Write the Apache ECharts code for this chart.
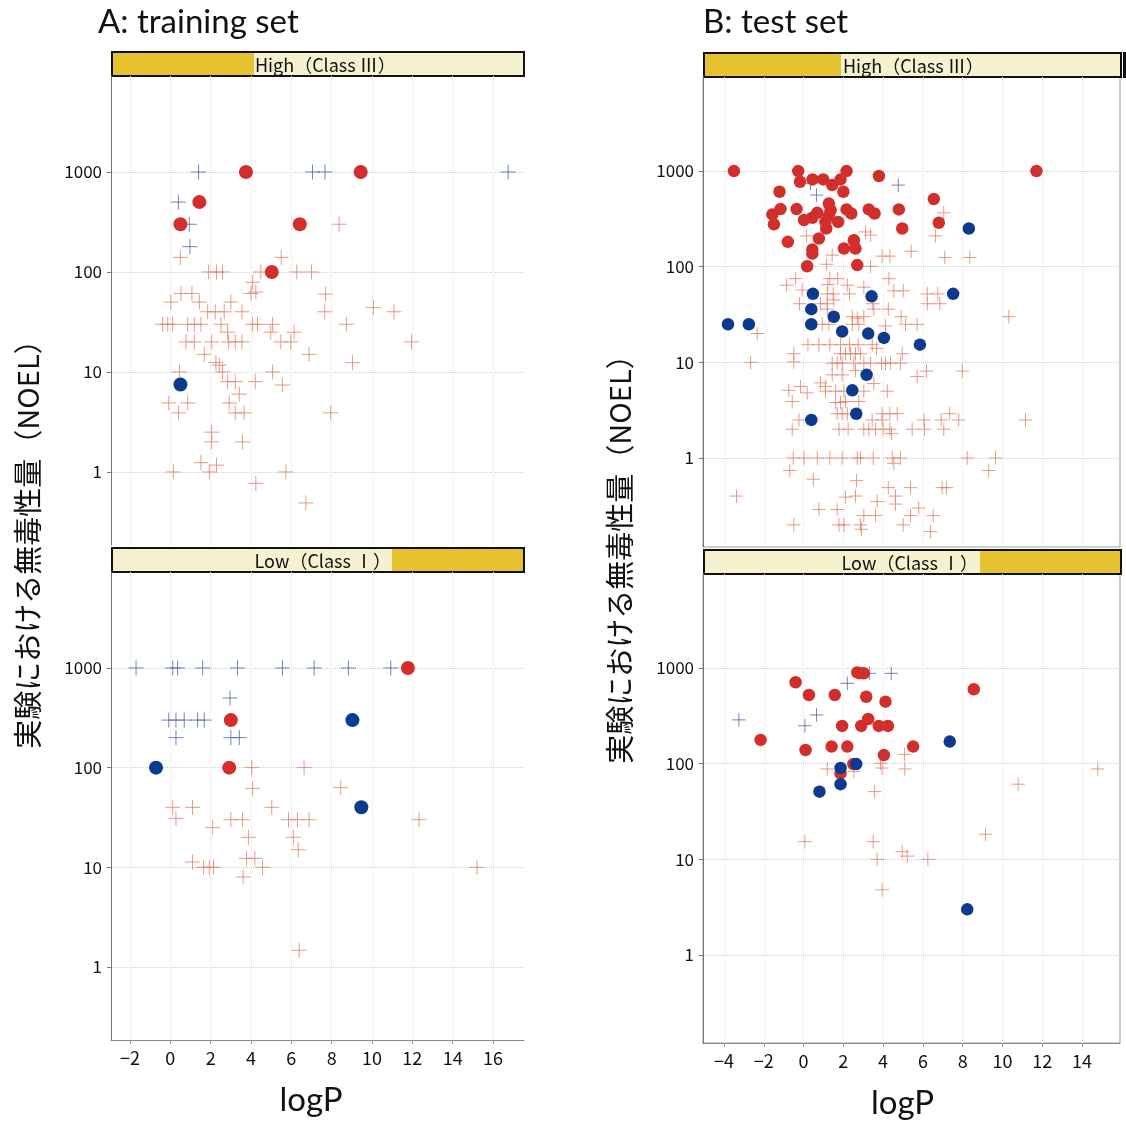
<!DOCTYPE html>
<html>
<head>
<meta charset="utf-8">
<script src="https://cdn.jsdelivr.net/npm/echarts@6/dist/echarts.min.js"></script>
<style>
html, body { margin: 0; padding: 0; background: #fff; }
#chart { width: 1126px; height: 1122px; }
</style>
</head>
<body>
<div id="chart"></div>
<script>
// logP on x, NOEL on y (log scale)
const yTicks = [1, 10, 100, 1000];
const xTicksA = [-2, 0, 2, 4, 6, 8, 10, 12, 14, 16];
const xTicksB = [-4, -2, 0, 2, 4, 6, 8, 10, 12, 14];

// A: training set, High (Class III)
const trainHighRedCircle = [[3.75, 1000], [9.44, 1000], [1.44, 500], [0.5, 300], [6.42, 300], [5.03, 100]];
const trainHighBlueCircle = [[0.5, 7.5]];
const trainHighBlueCross = [[1.4, 1000], [7.05, 1000], [7.67, 1000], [16.75, 1000], [0.4, 500], [0.94, 300], [0.97, 179]];
const trainHighRedCross = [
  [8.37, 300], [0.5, 140], [5.5, 140], [1.9, 100], [2.29, 100], [2.59, 100], [4.49, 100], [6.27, 100], [7.0, 100],
  [4.08, 79], [4.0, 61], [4.24, 63], [7.7, 60], [0.53, 61], [1.07, 61], [0.03, 50], [1.44, 50], [3.0, 50],
  [1.85, 40], [2.23, 40], [2.67, 40], [3.55, 40], [7.66, 40], [10.07, 44], [11.09, 40],
  [-0.38, 30], [-0.13, 30], [0.11, 30], [0.86, 30], [1.19, 30], [1.52, 30], [2.51, 30], [4.08, 30], [4.32, 30],
  [5.07, 30], [8.73, 30], [2.84, 25], [4.98, 25], [6.14, 25],
  [0.78, 20], [1.19, 20], [2.05, 20], [2.89, 20], [3.22, 20], [3.55, 20], [5.48, 20], [5.97, 20], [11.96, 20],
  [1.68, 15], [6.88, 15], [2.26, 12.4], [2.43, 11.7], [9.03, 12.4], [0.45, 10], [2.59, 10], [5.07, 10],
  [2.84, 8], [3.22, 8], [4.21, 8], [5.56, 7.4], [3.42, 6], [-0.08, 4.9], [0.86, 4.9], [2.92, 4.9],
  [0.41, 3.9], [3.22, 3.9], [3.66, 3.9], [7.95, 3.9], [2.05, 2.5], [2.05, 2.0], [3.58, 2.0],
  [1.52, 1.24], [1.93, 1.0], [2.29, 1.17], [0.15, 1.0], [5.73, 1.0], [4.24, 0.77], [6.72, 0.49]
];

// A: training set, Low (Class I)
const trainLowRedCircle = [[11.78, 1000], [3.0, 300], [2.92, 100]];
const trainLowBlueCircle = [[9.03, 300], [-0.71, 100], [9.47, 40]];
const trainLowBlueCross = [
  [-1.7, 1000], [0.12, 1000], [0.36, 1000], [1.6, 1000], [3.33, 1000], [5.56, 1000], [7.13, 1000], [8.83, 1000], [10.93, 1000],
  [2.96, 500], [-0.08, 300], [0.28, 300], [0.69, 300], [1.35, 300], [1.68, 300], [0.28, 200], [3.0, 200], [3.42, 200]
];
const trainLowRedCross = [
  [4.04, 100], [6.63, 100], [4.08, 62], [8.45, 63], [0.12, 40], [1.1, 40], [5.03, 40], [0.28, 31],
  [3.0, 30], [3.58, 30], [5.86, 30], [6.3, 30], [6.88, 30], [12.33, 30], [2.1, 25], [3.88, 20], [6.1, 20],
  [6.34, 15], [1.1, 11.3], [1.65, 10], [1.93, 10], [2.14, 10], [3.78, 12.3], [4.19, 12.3], [4.57, 10],
  [3.61, 8], [15.21, 10], [6.39, 1.47]
];

// B: test set, High (Class III)
const testHighRedCircle = [
  [-3.5, 1000], [-0.27, 1000], [2.16, 1000], [11.71, 1000], [-0.18, 773], [0.45, 818], [0.99, 818], [1.44, 713],
  [1.86, 818], [3.79, 887], [-1.21, 607], [2.0, 607], [6.55, 509], [-1.16, 400], [-1.57, 352], [-1.49, 277],
  [-0.35, 400], [0.02, 307], [0.44, 325], [0.69, 366], [1.27, 457], [1.36, 390], [1.27, 340], [1.1, 294],
  [1.14, 251], [1.74, 294], [2.16, 397], [2.4, 360], [3.28, 397], [3.57, 360], [4.79, 397], [4.96, 251],
  [6.8, 288], [-0.79, 182], [0.77, 197], [2.53, 189], [2.03, 155], [2.61, 155], [0.44, 151], [0.44, 137],
  [0.18, 101], [2.7, 104]
];
const testHighBlueCircle = [
  [8.31, 251], [0.47, 52], [3.42, 49], [7.52, 52], [0.39, 36], [-3.8, 25], [-2.75, 25], [0.39, 25], [1.52, 30],
  [1.94, 21], [3.25, 20], [4.04, 18], [5.85, 15.3], [3.17, 7.4], [2.45, 5.1], [2.65, 2.9], [0.39, 2.5]
];
const testHighBlueCross = [[0.35, 744], [0.65, 561], [4.76, 713]];
const testHighRedCross = [
  [7.05, 366], [6.63, 210], [0.15, 210], [3.12, 231], [3.37, 214],
  [1.44, 132], [3.95, 129], [4.34, 129], [5.41, 145], [7.1, 125], [8.36, 125], [1.16, 106], [3.37, 101],
  [-0.4, 75], [-0.85, 64], [1.32, 75], [1.72, 75], [1.22, 65], [2.2, 64], [3.03, 61], [4.29, 75],
  [-0.07, 57], [1.19, 52], [1.49, 52], [2.31, 52], [4.54, 56], [5.01, 56], [6.22, 52], [6.75, 52],
  [6.22, 41], [6.85, 41], [-0.2, 41], [0.85, 41], [1.19, 41], [1.52, 45], [3.48, 41], [3.53, 36], [4.26, 36],
  [1.19, 36], [4.91, 30], [5.13, 25], [5.71, 25], [10.32, 30], [-2.33, 20], [0.94, 25], [1.27, 25],
  [2.45, 30], [2.7, 29], [3.03, 30], [2.45, 25], [2.78, 25], [4.12, 24],
  [0.22, 15.3], [0.77, 15.3], [1.32, 15.3], [1.86, 15.3], [2.31, 15.3], [2.75, 15.3], [3.45, 15.3], [3.67, 14],
  [-0.49, 12.3], [-0.49, 10.1], [-2.66, 10], [1.86, 12.3], [2.11, 12.3], [2.36, 12.3], [2.61, 12.3], [2.86, 12.3],
  [1.44, 9.8], [1.69, 9.8], [1.94, 9.8], [2.53, 9.8], [3.03, 9.8], [3.37, 9.8], [3.92, 9.8], [4.12, 9.8],
  [4.37, 9.8], [4.87, 9.8], [4.96, 12.3], [1.44, 7.4], [1.94, 7.4], [2.61, 8.2], [5.71, 7.1], [6.18, 8.1],
  [7.98, 8.1], [0.85, 6.1], [1.1, 5.6], [3.53, 6.0], [-0.74, 5.1], [-0.15, 5.6], [0.18, 4.8], [1.1, 5.0],
  [1.61, 5.0], [2.03, 5.0], [3.03, 5.0], [4.21, 5.0], [-0.57, 3.9], [1.61, 3.8], [1.86, 3.8], [2.11, 3.9],
  [2.78, 3.9], [1.69, 2.9], [1.94, 2.9], [2.2, 2.9], [3.95, 2.9], [4.34, 2.9], [4.71, 2.9], [7.35, 2.9],
  [-0.23, 2.5], [-0.57, 2.0], [3.45, 2.5], [3.95, 2.5], [6.05, 2.5], [6.92, 2.5], [7.8, 2.5], [11.16, 2.5],
  [1.78, 2.0], [2.24, 2.0], [3.03, 2.0], [3.28, 2.0], [3.62, 2.0], [4.0, 2.0], [4.34, 2.0], [5.46, 2.0],
  [6.08, 2.0], [7.05, 2.0], [4.42, 1.8],
  [-0.52, 1.0], [0.02, 1.0], [0.69, 1.0], [1.32, 1.0], [1.94, 1.0], [2.7, 1.0], [2.86, 1.0], [3.5, 1.0],
  [4.46, 1.0], [4.87, 1.0], [8.23, 1.0], [9.65, 1.0], [4.54, 0.88], [-0.69, 0.74], [9.31, 0.74],
  [0.49, 0.6], [2.66, 0.58], [-3.37, 0.4], [2.11, 0.39], [2.61, 0.4], [4.26, 0.49], [5.38, 0.49],
  [6.97, 0.49], [7.19, 0.49], [4.62, 0.4], [4.62, 0.33], [3.7, 0.35], [0.77, 0.29], [1.69, 0.29],
  [3.03, 0.25], [3.62, 0.25], [5.79, 0.3], [5.38, 0.25], [6.52, 0.25], [-0.49, 0.2], [1.78, 0.2],
  [2.03, 0.2], [2.86, 0.2], [2.91, 0.18], [5.01, 0.2], [6.38, 0.17]
];

// B: test set, Low (Class I)
const testLowRedCircle = [
  [2.7, 900], [2.83, 880], [3.03, 880], [-0.4, 710], [0.27, 522], [1.57, 522], [3.15, 501], [4.12, 445],
  [8.56, 600], [-2.16, 177], [3.25, 293], [1.94, 248], [2.9, 248], [3.78, 248], [4.24, 248], [0.1, 139],
  [1.41, 151], [2.2, 151], [5.51, 151], [4.04, 123], [2.5, 99], [1.86, 79]
];
const testLowBlueCircle = [[7.35, 170], [2.65, 99], [1.86, 90], [1.86, 61], [0.8, 51], [8.23, 3.0]];
const testLowBlueCross = [[3.32, 880], [4.41, 880], [2.2, 692], [-3.25, 287], [0.65, 323], [0.07, 249]];
const testLowRedCross = [
  [5.08, 125], [3.87, 101], [1.19, 88], [2.53, 83], [3.95, 90], [5.09, 88], [14.79, 88], [3.57, 51],
  [10.79, 61], [0.07, 15.3], [3.5, 15.3], [9.15, 18.3], [4.96, 12], [5.21, 10.8], [3.7, 10], [6.25, 10], [3.95, 4.8]
];

const RED = '#d22f2c';
const BLUE = '#0c3a8f';
const RED_CROSS = '#e4806c';
const BLUE_CROSS = '#4f66ad';
const CROSS = 'path://M0,5L10,5M5,0L5,10';
const LABEL_FONT = '"Noto Sans CJK JP", "Noto Sans", sans-serif';

const panels = [
  { left: 111, top: 76, width: 413, height: 469, ymin: 0.186, ymax: 9120, xmin: -2.942, xmax: 17.537,
    xTicks: xTicksA, bottom: false, box: false, size: 14, namePad: 13,
    data: [trainHighRedCross, trainHighBlueCross, trainHighRedCircle, trainHighBlueCircle] },
  { left: 111, top: 572, width: 413, height: 468, ymin: 0.185, ymax: 9183, xmin: -2.942, xmax: 17.537,
    xTicks: xTicksA, bottom: true, box: false, size: 14, namePad: 13,
    data: [trainLowRedCross, trainLowBlueCross, trainLowRedCircle, trainLowBlueCircle] },
  { left: 703, top: 77, width: 417, height: 470, ymin: 0.1174, ymax: 9620, xmin: -5.056, xmax: 15.91,
    xTicks: xTicksB, bottom: false, box: true, size: 12.5, namePad: 18,
    data: [testHighRedCross, testHighBlueCross, testHighRedCircle, testHighBlueCircle] },
  { left: 703, top: 574, width: 417, height: 469, ymin: 0.120, ymax: 9620, xmin: -5.056, xmax: 15.91,
    xTicks: xTicksB, bottom: true, box: true, size: 12.5, namePad: 18,
    data: [testLowRedCross, testLowBlueCross, testLowRedCircle, testLowBlueCircle] }
];

const grid = [], xAxis = [], yAxis = [], series = [];
panels.forEach(function (p, i) {
  grid.push({
    left: p.left, top: p.top, width: p.width, height: p.height,
    show: p.box, borderColor: '#9a9a9a', borderWidth: 1, backgroundColor: 'transparent'
  });
  xAxis.push({
    type: 'value', gridIndex: i, min: p.xmin, max: p.xmax,
    name: p.bottom ? 'logP' : '', nameLocation: 'middle', nameGap: 44,
    nameTextStyle: { fontSize: 33, color: '#111', fontFamily: 'Lato, "Noto Sans", sans-serif', padding: [0, p.namePad, 0, 0] },
    axisLine: { show: p.bottom, onZero: false, lineStyle: { color: '#8a8a8a' } },
    axisTick: { show: p.bottom, length: 4, customValues: p.xTicks, lineStyle: { color: '#999' } },
    axisLabel: {
      show: p.bottom, customValues: p.xTicks, margin: 9, fontSize: 18, color: '#111', fontFamily: LABEL_FONT,
      formatter: function (v) { return String(v).replace('-', '\u2212'); }
    },
    splitLine: { show: true, lineStyle: { color: '#e4e4e4', type: 'dotted' } }
  });
  yAxis.push({
    type: 'log', logBase: 10, gridIndex: i, min: p.ymin, max: p.ymax,
    axisLine: { show: true, onZero: false, lineStyle: { color: '#777' } },
    axisTick: { show: true, length: 4, customValues: yTicks, lineStyle: { color: '#777' } },
    axisLabel: {
      customValues: yTicks, margin: 9, fontSize: 17, color: '#111', fontFamily: LABEL_FONT,
      formatter: function (v) { return String(Math.round(v)); }
    },
    splitLine: { show: true, lineStyle: { color: '#c3cfdc', type: 'dotted' } }
  });
  const styles = [
    { symbol: CROSS, size: p.size + 1, color: RED_CROSS, cross: true },
    { symbol: CROSS, size: p.size + 1, color: BLUE_CROSS, cross: true },
    { symbol: 'circle', size: p.size, color: RED },
    { symbol: 'circle', size: p.size, color: BLUE }
  ];
  p.data.forEach(function (d, k) {
    const s = styles[k];
    series.push({
      type: 'scatter', xAxisIndex: i, yAxisIndex: i, data: d,
      symbol: s.symbol, symbolSize: s.size, silent: true,
      itemStyle: s.cross
        ? { color: 'transparent', borderColor: s.color, borderWidth: 1 }
        : { color: s.color, opacity: 1 }
    });
  });
});

// strip headers above each panel
function header(x, y, w, h, text, goldFrom, goldTo, textX, align) {
  return [
    { type: 'rect', shape: { x: x, y: y, width: w, height: h }, style: { fill: '#f6f2cf' } },
    { type: 'rect', shape: { x: goldFrom, y: y, width: goldTo - goldFrom, height: h }, style: { fill: '#e6c230' } },
    { type: 'rect', shape: { x: x, y: y, width: w, height: h }, style: { fill: 'none', stroke: '#111', lineWidth: 2 } },
    { type: 'text', x: textX, y: y + h / 2 + 1,
      style: { text: text, fill: '#111', font: '18px "Noto Sans CJK JP", sans-serif', align: align, verticalAlign: 'middle' } }
  ];
}

const graphic = [].concat(
  header(112, 52, 412, 24, 'High（Class Ⅲ）', 112, 254, 255, 'left'),
  header(112, 548, 412, 24, 'Low（Class Ⅰ）', 392, 524, 391, 'right'),
  header(704, 53, 417, 24, 'High（Class Ⅲ）', 704, 841, 843, 'left'),
  header(704, 550, 417, 24, 'Low（Class Ⅰ）', 980, 1121, 978, 'right'),
  [
    { type: 'rect', shape: { x: 1123, y: 52, width: 3, height: 26 }, style: { fill: '#111' } },
    { type: 'text', x: 28, y: 537, rotation: Math.PI / 2,
      style: { text: '実験における無毒性量（NOEL）', fill: '#111', font: '29px "Noto Sans CJK JP", sans-serif',
        align: 'center', verticalAlign: 'middle' } },
    { type: 'text', x: 620, y: 552, rotation: Math.PI / 2,
      style: { text: '実験における無毒性量（NOEL）', fill: '#111', font: '29px "Noto Sans CJK JP", sans-serif',
        align: 'center', verticalAlign: 'middle' } }
  ]
);

const chart = echarts.init(document.getElementById('chart'), null, { renderer: 'canvas' });
chart.setOption({
  animation: false,
  backgroundColor: '#fff',
  title: [
    { text: 'A: training set', left: 93, top: 1, textStyle: { fontSize: 33, fontWeight: 'normal', color: '#111', fontFamily: 'Lato, "Noto Sans", sans-serif' } },
    { text: 'B: test set', left: 698, top: 1, textStyle: { fontSize: 33, fontWeight: 'normal', color: '#111', fontFamily: 'Lato, "Noto Sans", sans-serif' } }
  ],
  grid: grid,
  xAxis: xAxis,
  yAxis: yAxis,
  series: series,
  graphic: graphic
});
</script>
</body>
</html>
